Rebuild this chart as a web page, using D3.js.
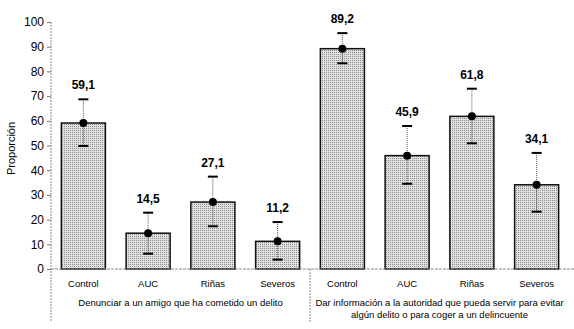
<!DOCTYPE html>
<html>
<head>
<meta charset="utf-8">
<script src="https://cdn.jsdelivr.net/npm/d3@7"></script>
<style>
  body { margin: 0; background: #fff; }
  svg { font-family: Arial, "Liberation Sans", sans-serif; }
</style>
</head>
<body>
<div id="container"></div>
<script>
var categories = ['Control', 'AUC', 'Riñas', 'Severos', 'Control', 'AUC', 'Riñas', 'Severos'];
var values = [59.1, 14.5, 27.1, 11.2, 89.2, 45.9, 61.8, 34.1];
var upper = [68.7, 22.8, 37.4, 19.0, 95.5, 57.9, 73.0, 47.0];
var lower = [49.8, 6.2, 17.3, 3.8, 83.3, 34.5, 50.9, 23.2];
var groups = [
    ['Denunciar a un amigo que ha cometido un delito'],
    ['Dar información a la autoridad que pueda servir para evitar', 'algún delito o para coger a un delincuente']
];
var yTicks = [0, 10, 20, 30, 40, 50, 60, 70, 80, 90, 100];

var width = 574,
    height = 329,
    margin = { left: 51, right: 5, top: 22, bottom: 60 };

var svg = d3.select('#container')
    .append('svg')
    .attr('width', width)
    .attr('height', height);

var defs = svg.append('defs');
var pat = defs.append('pattern')
    .attr('id', 'dots')
    .attr('width', 2)
    .attr('height', 2)
    .attr('patternUnits', 'userSpaceOnUse');
pat.append('rect').attr('width', 2).attr('height', 2).attr('fill', '#e0e0e0');
pat.append('rect').attr('width', 1).attr('height', 1).attr('fill', '#8c8c8c');

var idx = d3.range(categories.length);
var x = d3.scaleBand()
    .domain(idx)
    .range([margin.left, 569])
    .paddingInner(0.32)
    .paddingOuter(0.16);
var y = d3.scaleLinear()
    .domain([0, 100])
    .range([269, margin.top]);

// y axis
var yAxis = svg.append('g')
    .attr('transform', 'translate(' + margin.left + ',0)')
    .call(d3.axisLeft(y).tickValues(yTicks).tickSize(4).tickPadding(3));
yAxis.select('.domain').remove();
yAxis.selectAll('.tick line').attr('stroke', '#777');
yAxis.selectAll('text').style('font-size', '12px').attr('fill', '#000');

svg.append('line')
    .attr('x1', margin.left).attr('x2', margin.left)
    .attr('y1', y(100)).attr('y2', 322)
    .attr('stroke', '#888')
    .attr('stroke-dasharray', '2,1');

svg.append('text')
    .attr('transform', 'translate(15,' + ((y(0) + y(100)) / 2 + 3) + ') rotate(-90)')
    .attr('text-anchor', 'middle')
    .style('font-size', '11px')
    .text('Proporción');

// bars
var g = svg.append('g');
g.selectAll('rect.bar')
    .data(idx)
    .enter()
    .append('rect')
    .attr('class', 'bar')
    .attr('x', function(i) { return x(i); })
    .attr('y', function(i) { return y(values[i]); })
    .attr('width', x.bandwidth())
    .attr('height', function(i) { return y(0) - y(values[i]); })
    .attr('fill', 'url(#dots)')
    .attr('stroke', '#111')
    .attr('stroke-width', 1.5);

// baseline
svg.append('line')
    .attr('x1', margin.left).attr('x2', width)
    .attr('y1', y(0)).attr('y2', y(0))
    .attr('stroke', '#888')
    .attr('stroke-dasharray', '3,1');

// group separator
var sepX = (x(3) + x.bandwidth() + x(4)) / 2;
svg.append('line')
    .attr('x1', sepX).attr('x2', sepX)
    .attr('y1', y(0)).attr('y2', 322)
    .attr('stroke', '#888')
    .attr('stroke-dasharray', '2,1');

// error bars
var cx = function(i) { return x(i) + x.bandwidth() / 2; };
g.selectAll('line.err')
    .data(idx)
    .enter()
    .append('line')
    .attr('x1', cx).attr('x2', cx)
    .attr('y1', function(i) { return y(upper[i]); })
    .attr('y2', function(i) { return y(lower[i]); })
    .attr('stroke', '#555')
    .attr('stroke-dasharray', '1,1');
g.selectAll('line.capu')
    .data(idx)
    .enter()
    .append('line')
    .attr('x1', function(i) { return cx(i) - 5; })
    .attr('x2', function(i) { return cx(i) + 5; })
    .attr('y1', function(i) { return y(upper[i]); })
    .attr('y2', function(i) { return y(upper[i]); })
    .attr('stroke', '#000')
    .attr('stroke-width', 2);
g.selectAll('line.capl')
    .data(idx)
    .enter()
    .append('line')
    .attr('x1', function(i) { return cx(i) - 5; })
    .attr('x2', function(i) { return cx(i) + 5; })
    .attr('y1', function(i) { return y(lower[i]); })
    .attr('y2', function(i) { return y(lower[i]); })
    .attr('stroke', '#000')
    .attr('stroke-width', 2);
g.selectAll('circle')
    .data(idx)
    .enter()
    .append('circle')
    .attr('cx', cx)
    .attr('cy', function(i) { return y(values[i]); })
    .attr('r', 4)
    .attr('fill', '#000');

// value labels
g.selectAll('text.val')
    .data(idx)
    .enter()
    .append('text')
    .attr('class', 'val')
    .attr('x', cx)
    .attr('y', function(i) { return y(upper[i]) - 10; })
    .attr('text-anchor', 'middle')
    .style('font-size', '12px')
    .style('font-weight', 'bold')
    .text(function(i) { return values[i].toFixed(1).replace('.', ','); });

// category labels
g.selectAll('text.cat')
    .data(idx)
    .enter()
    .append('text')
    .attr('x', cx)
    .attr('y', 287)
    .attr('text-anchor', 'middle')
    .style('font-size', '9.5px')
    .text(function(i) { return categories[i]; });

// group labels
groups.forEach(function(lines, gi) {
    var gx = (x(gi * 4) + x(gi * 4 + 3) + x.bandwidth()) / 2;
    lines.forEach(function(t, li) {
        svg.append('text')
            .attr('x', gx)
            .attr('y', 306 + li * 12)
            .attr('text-anchor', 'middle')
            .style('font-size', '9.5px')
            .text(t);
    });
});
</script>
</body>
</html>
